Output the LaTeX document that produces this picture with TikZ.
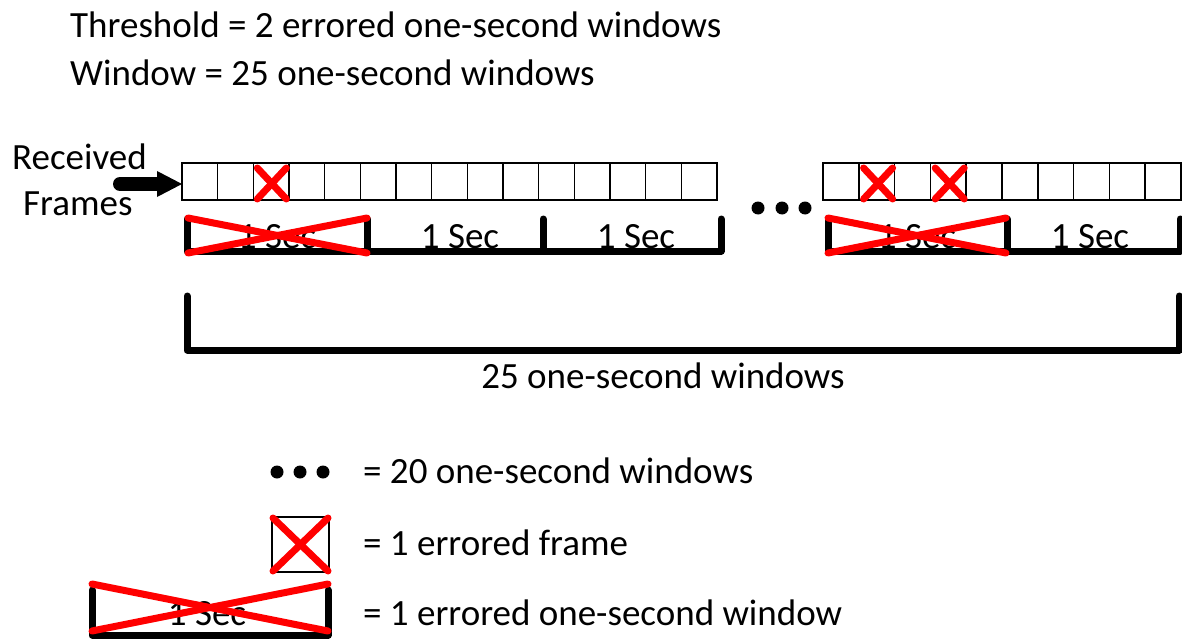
\documentclass[tikz,border=0pt]{standalone}
\usepackage{fontspec}
\setmainfont{Carlito}
\begin{document}
\begin{tikzpicture}[x=1pt,y={(0pt,-1pt)},
  fbox/.style={draw=black,line width=1.6pt},
  brk/.style={draw=black,line width=7pt,line cap=round,line join=round},
  redx/.style={draw=red,line width=7pt,line cap=round},
  txt/.style={anchor=base west,inner sep=0pt,font=\fontsize{37}{42}\selectfont},
  ctxt/.style={anchor=base,inner sep=0pt,font=\fontsize{37}{42}\selectfont},
  dot/.style={circle,fill=black,inner sep=0pt,minimum size=13pt}
]
\useasboundingbox (0,0) rectangle (1182,639);

% header
\node[txt] (thr) at (70,38) {Threshold = 2 errored one-second windows};
\node[txt] (win) at (70,86) {Window = 25 one-second windows};

% received frames label
\node[txt] (rec) at (12,170) {Received};
\node[txt] (frm) at (23,215) {Frames};

% left frame row (15 boxes)
\foreach \k in {0,...,14}{
  \draw[fbox] ({182+\k*35.667},163) rectangle ({182+(\k+1)*35.667},200);
}
\coordinate (rowL) at (182,184);
% right frame row (10 boxes)
\foreach \k in {0,...,9}{
  \draw[fbox] ({823+\k*35.8},163) rectangle ({823+(\k+1)*35.8},200);
}

% arrow
\coordinate (arrS) at (120,184);
\coordinate (arrB) at (158,184);
\draw[line width=14pt,line cap=round] (arrS) -- (arrB);
\fill (157,171) -- (rowL) -- (157,197) -- cycle;

% errored frames
\foreach \x in {253.3,859.6,931.2}{
  \draw[redx] ({\x+4},168) -- ({\x+33},199);
  \draw[redx] ({\x+4},199) -- ({\x+33},168);
}

% dots
\node[dot] (d1) at (758,208) {};
\node[dot] (d2) at (782,208) {};
\node[dot] (d3) at (805,208) {};

% left brackets
\draw[brk] (187,219) -- (187,251) -- (721,251) -- (721,219);
\draw[brk] (367,219) -- (367,251);
\draw[brk] (543,219) -- (543,251);
\node[ctxt] (s1) at (277,248) {1 Sec};
\node[ctxt] (s2) at (460,248) {1 Sec};
\node[ctxt] (s3) at (636,248) {1 Sec};
\draw[redx] (188,218) -- (367,253);
\draw[redx] (188,253) -- (367,218);

% right brackets
\draw[brk] (828,219) -- (828,251) -- (1180,251) -- (1180,219);
\draw[brk] (1007,219) -- (1007,251);
\node[ctxt] (s4) at (917,248) {1 Sec};
\node[ctxt] (s5) at (1090,248) {1 Sec};
\draw[redx] (828,218) -- (1006,253);
\draw[redx] (828,253) -- (1006,218);

% big bracket
\draw[brk] (187,296) -- (187,350) -- (1179,350) -- (1179,296);
\node[ctxt] (tot) at (663,388) {25 one-second windows};

% legend
\node[dot] (l1) at (277,472) {};
\node[dot] (l2) at (300,472) {};
\node[dot] (l3) at (323,472) {};
\node[txt] (lt1) at (363,483) {= 20 one-second windows};

\draw[line width=1.5pt] (272,517) rectangle (329,572);
\draw[redx] (273,518) -- (328,571);
\draw[redx] (273,571) -- (328,518);
\node[txt] (lt2) at (363,555) {= 1 errored frame};

\draw[brk] (92,590) -- (92,635) -- (328,635) -- (328,590);
\node[ctxt] (ls) at (207,625) {1 Sec};
\draw[redx] (92,584) -- (328,631);
\draw[redx] (92,631) -- (328,584);
\node[txt] (lt3) at (363,625) {= 1 errored one-second window};
\end{tikzpicture}
\end{document}
